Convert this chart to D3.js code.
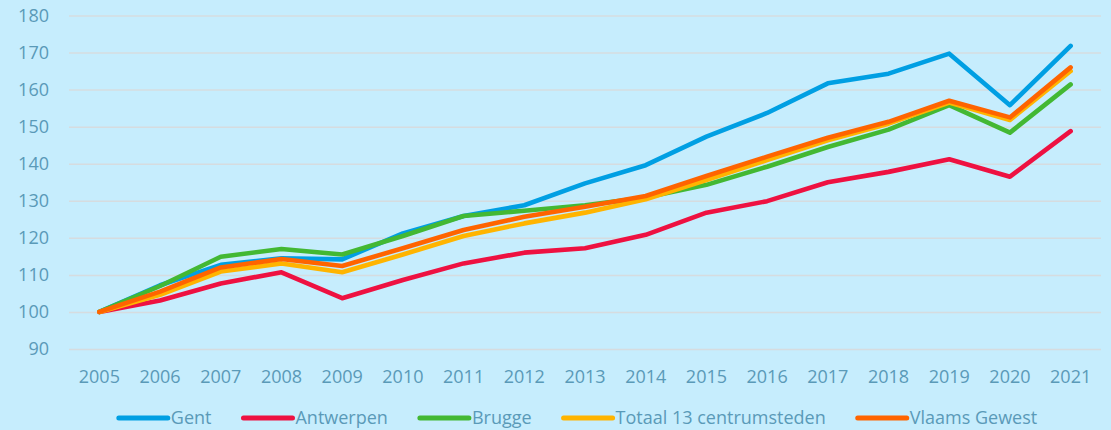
<!DOCTYPE html>
<html>
<head>
<meta charset="utf-8">
<script src="https://cdn.jsdelivr.net/npm/d3@7"></script>
<style>
  html, body { margin: 0; padding: 0; background: #C6EDFD; }
  svg { display: block; }
  text { font-family: "Open Sans", sans-serif; fill: #5A9AB8; }
</style>
</head>
<body>
<svg id="chart" width="1111" height="430"></svg>
<script>
const years = ["2005","2006","2007","2008","2009","2010","2011","2012","2013","2014","2015","2016","2017","2018","2019","2020","2021"];
const yTicks = [90, 100, 110, 120, 130, 140, 150, 160, 170, 180];
const seriesNames = ["Gent", "Antwerpen", "Brugge", "Totaal 13 centrumsteden", "Vlaams Gewest"];
const seriesColors = ["#009FE3", "#EE1141", "#43B833", "#FFB400", "#FF6400"];
const gent      = [100, 107.2, 112.7, 114.5, 114.2, 121.2, 125.9, 128.8, 134.7, 139.6, 147.3, 153.7, 161.7, 164.3, 169.7, 155.8, 171.8];
const antwerpen = [100, 103.1, 107.7, 110.7, 103.7, 108.6, 113.1, 116.0, 117.2, 120.8, 126.8, 129.9, 135.0, 137.8, 141.2, 136.5, 148.8];
const brugge    = [100, 107.0, 114.9, 117.0, 115.5, 120.5, 125.9, 127.3, 128.8, 130.9, 134.3, 139.2, 144.5, 149.2, 155.8, 148.4, 161.4];
const totaal13  = [100, 104.6, 110.9, 113.1, 110.7, 115.5, 120.5, 123.9, 126.8, 130.4, 135.6, 141.0, 146.3, 150.8, 156.5, 151.8, 165.0];
const vlaams    = [100, 105.5, 112.0, 114.3, 112.4, 117.2, 122.1, 125.7, 128.4, 131.3, 136.7, 141.9, 147.0, 151.3, 157.0, 152.5, 166.0];
const seriesValues = [gent, antwerpen, brugge, totaal13, vlaams];

const svg = d3.select("#chart");
const W = 1111, H = 430;
const plot = { left: 69, right: 1101, top: 15.5, bottom: 349 };

svg.append("rect").attr("width", W).attr("height", H).attr("fill", "#C6EDFD");

const x = d3.scaleBand().domain(years).range([plot.left, plot.right]).padding(0);
const xc = d => x(d) + x.bandwidth() / 2;
const y = d3.scaleLinear().domain([90, 180]).range([plot.bottom, plot.top]);

// gridlines + y labels
const yAxis = d3.axisLeft(y).tickValues(yTicks).tickSize(-(plot.right - plot.left)).tickPadding(20).tickFormat(d3.format("d"));
const gy = svg.append("g").attr("transform", `translate(${plot.left},0)`).call(yAxis);
gy.select(".domain").remove();
gy.selectAll(".tick line").attr("stroke", "#D6DCDF").attr("stroke-width", 1.5);
gy.selectAll(".tick text").attr("font-size", 18).attr("fill", "#5A9AB8").attr("x", 49 - plot.left).style("font-family", "'Open Sans', sans-serif");

// x labels
const xAxis = d3.axisBottom(x).tickSize(0).tickPadding(0);
const gx = svg.append("g").attr("transform", `translate(0,${plot.bottom})`).call(xAxis);
gx.select(".domain").remove();
gx.selectAll(".tick text").attr("font-size", 18).attr("fill", "#5A9AB8").attr("y", 21).attr("dy", "0.71em").style("font-family", "'Open Sans', sans-serif");

// lines
const line = d3.line().x((d, i) => xc(years[i])).y(d => y(d));
seriesValues.forEach((vals, k) => {
  svg.append("path")
    .datum(vals)
    .attr("d", line)
    .attr("fill", "none")
    .attr("stroke", seriesColors[k])
    .attr("stroke-width", 4.6)
    .attr("stroke-linecap", "round")
    .attr("stroke-linejoin", "round");
});

// legend
const lg = svg.append("g");
const legendY = 418;
const swatch = 49, textGap = 3, itemGap = 32, fs = 18;
let cx = 0;
seriesNames.forEach((name, k) => {
  const g = lg.append("g");
  g.append("line").attr("x1", 0).attr("x2", swatch).attr("y1", legendY).attr("y2", legendY)
    .attr("stroke", seriesColors[k]).attr("stroke-width", 5).attr("stroke-linecap", "round");
  const t = g.append("text").attr("x", swatch + textGap).attr("y", legendY).attr("dy", "0.35em")
    .attr("font-size", fs).text(name).style("font-family", "'Open Sans', sans-serif");
  const w = t.node().getComputedTextLength();
  g.attr("transform", `translate(${cx},0)`);
  cx += swatch + textGap + w + itemGap;
});
const total = cx - itemGap;
const center = (plot.left + plot.right) / 2 - 7;
lg.attr("transform", `translate(${center - total / 2},0)`);
</script>
</body>
</html>
